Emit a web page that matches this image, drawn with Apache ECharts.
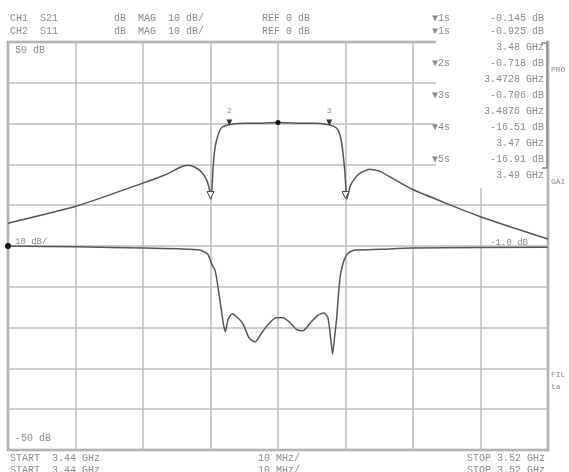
<!DOCTYPE html>
<html>
<head>
<meta charset="utf-8">
<script src="https://cdn.jsdelivr.net/npm/echarts@6/dist/echarts.min.js"></script>
<style>
  html, body { margin: 0; padding: 0; background: #fff; }
  #mychart { width: 569px; height: 472px; }
</style>
</head>
<body>
<div id="mychart"></div>
<script>
// display units: 10 per division, center line = 0
var s21Freq = [3440, 3450.2, 3460.3, 3463.5, 3465.5, 3466.7, 3467.7, 3468.7, 3469.5, 3469.9, 3470.1, 3470.4, 3470.7, 3471.2, 3471.7, 3472.9, 3475.1, 3477.3, 3480, 3483.3, 3485.5, 3487.3, 3488.3, 3488.9, 3489.3, 3489.6, 3489.9, 3490.2, 3490.7, 3491.3, 3492.1, 3493.6, 3495.1, 3499.9, 3509.8, 3520];
var s21Val = [5.6, 9.8, 15.6, 17.6, 19.3, 19.8, 19.3, 18.1, 15.9, 13.4, 11.5, 19.6, 24.4, 27.6, 29.1, 29.8, 30.1, 30.1, 30.3, 30.1, 30.1, 29.8, 29.3, 28.4, 26.4, 23.2, 18.3, 11.5, 14.7, 16.4, 17.8, 18.8, 18.3, 13.9, 7.3, 1.7];

var s11Freq = [3440, 3450.2, 3460.3, 3465.5, 3468.4, 3469.6, 3470.2, 3470.7, 3471.1, 3471.4, 3471.9, 3472.2, 3472.6, 3473.2, 3473.9, 3474.8, 3475.7, 3476.6, 3477.5, 3478.5, 3479.7, 3480.7, 3481.8, 3482.8, 3483.7, 3484.7, 3485.9, 3486.8, 3487.4, 3487.9, 3488.1, 3488.4, 3488.7, 3489.0, 3489.3, 3489.8, 3490.4, 3491.4, 3495.1, 3499.9, 3520];
var s11Val = [0, -0.2, -0.5, -0.7, -1, -2, -4.5, -6.1, -10, -13.4, -19, -21, -18, -16.6, -17.4, -19, -22.5, -23.5, -21.5, -19.3, -17.6, -17.6, -18.8, -20.5, -20.8, -19, -17, -16.4, -17.6, -24, -26.5, -22, -17.6, -11, -6.6, -3.4, -1.7, -1, -0.8, -0.5, -0.3];

var markerFreq = [3480, 3472.8, 3487.6, 3470, 3490];
var markerVal = [30.3, 29.8, 29.8, 11.5, 11.5];
var markerDb = ['-0.145 dB', '-0.718 dB', '-0.706 dB', '-16.51 dB', '-16.91 dB'];
var markerFreqText = ['3.48 GHz', '3.4728 GHz', '3.4876 GHz', '3.47 GHz', '3.49 GHz'];

function zip(a, b) {
    var out = [];
    for (var i = 0; i < a.length; i++) out.push([a[i], b[i]]);
    return out;
}

var txtColor = '#8a8a8a';
var font = '"Liberation Mono", "DejaVu Sans Mono", monospace';

function txt(x, y, s, align, size) {
    return {
        type: 'text', x: x, y: y, z: 20,
        style: {
            text: s, fill: txtColor, font: (size || 10) + 'px ' + font,
            textAlign: align || 'left', textVerticalAlign: 'middle'
        }
    };
}

var graphics = [
    // readout box hiding the grid
    {type: 'rect', z: 10, shape: {x: 436, y: 38, width: 110, height: 150}, style: {fill: '#fff'}},
    {type: 'polyline', z: 11, shape: {points: [[541, 43], [547, 43], [547, 168], [542, 168]]}, style: {stroke: '#888', lineWidth: 1.5, fill: null}},
    txt(10, 18, 'CH1  S21'), txt(10, 31, 'CH2  S11'),
    txt(114, 18, 'dB  MAG  10 dB/'), txt(114, 31, 'dB  MAG  10 dB/'),
    txt(262, 18, 'REF 0 dB'), txt(262, 31, 'REF 0 dB'),
    txt(432, 18, '\u25bc1s'), txt(544, 18, markerDb[0], 'right'),
    txt(432, 31, '\u25bc1s'), txt(544, 31, '-0.925 dB', 'right'),
    txt(15, 50, '50 dB'), txt(15, 438, '-50 dB'),
    txt(15, 242, '10 dB/', 'left', 9), txt(528, 243, '-1.0 dB', 'right', 9),
    txt(551, 70, 'PRO', 'left', 8), txt(551, 182, 'GAI', 'left', 8),
    txt(551, 375, 'FIL', 'left', 8), txt(551, 387, 'ta', 'left', 8),
    txt(10, 458, 'START  3.44 GHz'), txt(10, 470, 'START  3.44 GHz'),
    txt(258, 458, '10 MHz/'), txt(258, 470, '10 MHz/'),
    txt(545, 458, 'STOP 3.52 GHz', 'right'), txt(545, 470, 'STOP 3.52 GHz', 'right')
];
// marker readouts 2..5
graphics.push(txt(544, 47, markerFreqText[0], 'right'));
for (var i = 1; i < 5; i++) {
    var y0 = 47 + i * 32;
    graphics.push(txt(432, y0 - 16, '\u25bc' + (i + 1) + 's'));
    graphics.push(txt(544, y0 - 16, markerDb[i], 'right'));
    graphics.push(txt(544, y0, markerFreqText[i], 'right'));
}

var option = {
    animation: false,
    backgroundColor: '#fff',
    grid: {
        left: 8, right: 21, top: 42, bottom: 22,
        show: true, borderColor: '#999', borderWidth: 2.5
    },
    xAxis: {
        type: 'value', min: 3440, max: 3520, interval: 10,
        axisLine: {show: false}, axisTick: {show: false}, axisLabel: {show: false},
        splitLine: {lineStyle: {color: '#bdbdbd', width: 1.5}}
    },
    yAxis: {
        type: 'value', min: -50, max: 50, interval: 10,
        axisLine: {show: false}, axisTick: {show: false}, axisLabel: {show: false},
        splitLine: {lineStyle: {color: '#bdbdbd', width: 1.5}}
    },
    graphic: graphics,
    series: [
        {
            name: 'S21', type: 'line', data: zip(s21Freq, s21Val),
            smooth: 0.2, showSymbol: false,
            lineStyle: {color: '#555', width: 1.5},
            markPoint: {
                symbolKeepAspect: true,
                data: [
                    {coord: [markerFreq[0], markerVal[0]], symbol: 'circle', symbolSize: 5, itemStyle: {color: '#111'}},
                    {coord: [markerFreq[1], markerVal[1]], symbol: 'triangle', symbolRotate: 180, symbolSize: 6, symbolOffset: [0, -2], itemStyle: {color: '#333'},
                        label: {show: true, formatter: '2', position: 'top', color: txtColor, fontSize: 8}},
                    {coord: [markerFreq[2], markerVal[2]], symbol: 'triangle', symbolRotate: 180, symbolSize: 6, symbolOffset: [0, -2], itemStyle: {color: '#333'},
                        label: {show: true, formatter: '3', position: 'top', color: txtColor, fontSize: 8}},
                    {coord: [markerFreq[3], markerVal[3]], symbol: 'triangle', symbolRotate: 180, symbolSize: 7, symbolOffset: [0, -4], itemStyle: {color: '#fff', borderColor: '#444', borderWidth: 1}},
                    {coord: [markerFreq[4], markerVal[4]], symbol: 'triangle', symbolRotate: 180, symbolSize: 7, symbolOffset: [0, -4], itemStyle: {color: '#fff', borderColor: '#444', borderWidth: 1}}
                ],
                label: {show: false}
            }
        },
        {
            name: 'S11', type: 'line', data: zip(s11Freq, s11Val),
            smooth: 0.2, showSymbol: false,
            lineStyle: {color: '#555', width: 1.5},
            markPoint: {
                data: [{coord: [3440, 0], symbol: 'circle', symbolSize: 6, itemStyle: {color: '#111'}}],
                label: {show: false}
            }
        }
    ]
};

var mychart = echarts.init(document.getElementById('mychart'));
mychart.setOption(option);
</script>
</body>
</html>
